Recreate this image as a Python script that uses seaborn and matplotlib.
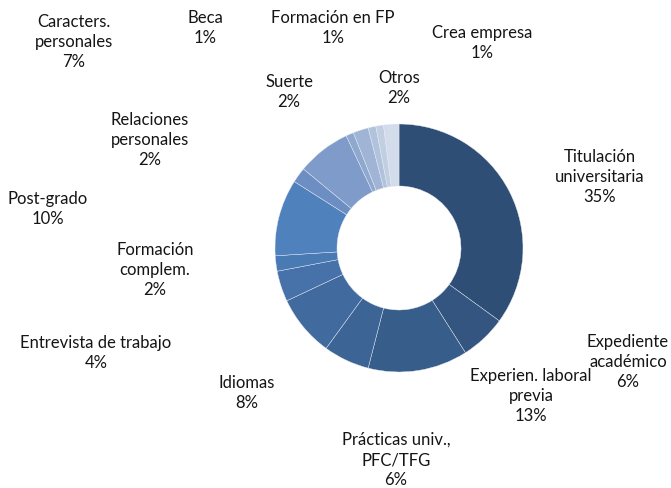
import matplotlib
matplotlib.use("Agg")
import matplotlib.pyplot as plt
import seaborn as sns

# categorias en orden horario desde las 12
categorias = [
    "Titulación\nuniversitaria", "Expediente\nacadémico", "Experien. laboral\nprevia",
    "Prácticas univ.,\nPFC/TFG", "Idiomas", "Entrevista de trabajo",
    "Formación\ncomplem.", "Post-grado", "Relaciones\npersonales",
    "Caracters.\npersonales", "Beca", "Suerte", "Formación en FP",
    "Crea empresa", "Otros",
]
porcentajes = [35, 6, 13, 6, 8, 4, 2, 10, 2, 7, 1, 2, 1, 1, 2]

# posicion de cada etiqueta (px desde arriba-izquierda), estilo Excel
pos_etiquetas = [
    (600, 177), (628, 362), (531, 396), (396, 460), (247, 393), (96, 353),
    (155, 270), (48, 209), (150, 140), (74, 42), (205, 28), (289, 92),
    (333, 28), (482, 43), (399, 88),
]

W, H = 671, 488
sns.set_theme(style="white")
plt.rcParams['font.family'] = ['Lato', 'DejaVu Sans']

colores = (sns.blend_palette(["#2E4E76", "#4F81BD"], 8)
           + sns.blend_palette(["#6D8EC2", "#D3DCEA"], 7))

fig = plt.figure(figsize=(W / 100, H / 100), dpi=100)
ax = fig.add_axes([0, 0, 1, 1])

ax.pie(porcentajes, colors=colores, startangle=90, counterclock=False,
       center=(399, H - 248), radius=124,
       wedgeprops=dict(width=62, edgecolor="#E8ECF4", linewidth=0.3))

for cat, p, (x, y) in zip(categorias, porcentajes, pos_etiquetas):
    ax.text(x, H - y, f"{cat}\n{p}%", ha="center", va="center",
            fontsize=12, color="#151515", linespacing=1.3)

ax.set_xlim(0, W)
ax.set_ylim(0, H)
ax.set_aspect("equal")
ax.axis("off")

fig.savefig("out.png", dpi=100, facecolor="white")
